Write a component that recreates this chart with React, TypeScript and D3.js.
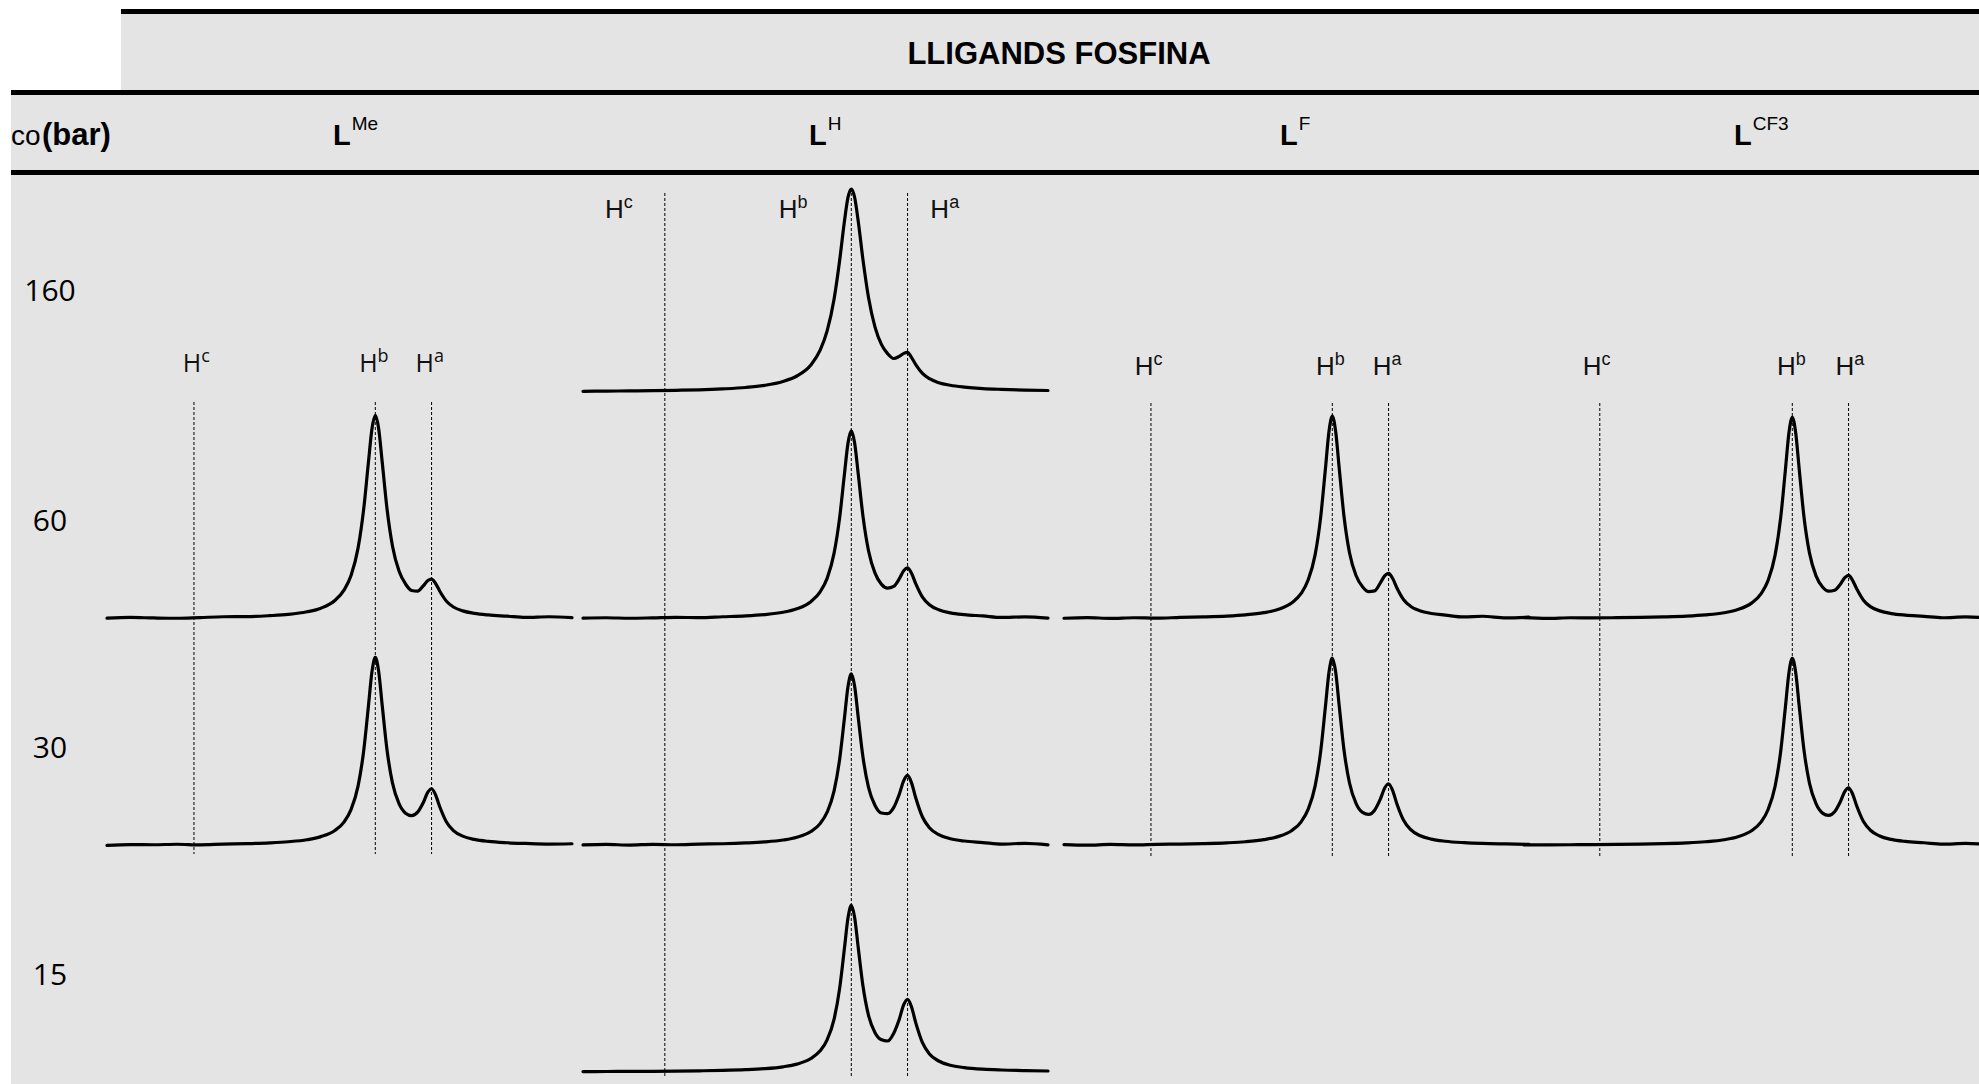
import React from "react";
import * as d3 from "d3";

// ---------- data ----------
const TITLE = "LLIGANDS FOSFINA";
const ROW_HEADER_SUB = "co";
const ROW_HEADER_MAIN = "(bar)";
const PRESSURES = ["160", "60", "30", "15"];
const LIGANDS = ["Me", "H", "F", "CF3"];
const PEAK_NAMES = ["c", "b", "a"];

// chemical-shift axis (relative units across each panel, 0..100)
const SHIFT = [0, 5, 10, 15, 20, 25, 30, 35, 39, 43, 46, 49, 51, 52.5, 54, 55.2, 56.2, 57, 57.7, 58.4, 59.2, 60.2, 61.4, 62.8, 64.2, 65.5, 66.8, 68, 69, 69.8, 70.6, 71.6, 73, 74.5, 76.5, 79, 82, 86, 90, 95, 100];

// marker (dashed line) positions per ligand, for Hc, Hb, Ha
const MARKERS_ME = [18.7, 57.7, 69.8];
const MARKERS_H = [17.6, 57.7, 69.8];
const MARKERS_F = [18.7, 57.7, 69.8];
const MARKERS_CF3 = [16.3, 57.7, 69.8];

// intensities
const LME_60 = [0.5, 1.2, 0.7, 0.4, 1.1, 1.9, 2.0, 3.0, 4.3, 6.9, 10.5, 18.2, 28.8, 43.4, 70.8, 109.5, 155.3, 190.4, 203.2, 190.7, 155.9, 110.6, 72.5, 47.6, 34.7, 28.2, 27.6, 32.8, 38.1, 39.6, 35.7, 27.2, 17.5, 11.7, 7.8, 5.3, 3.7, 2.5, 1.3, 1.9, 1.0];
const LME_30 = [0.0, 0.8, 0.6, 1.1, 0.5, 1.2, 1.7, 2.5, 3.6, 5.6, 8.7, 14.9, 23.5, 36.0, 59.4, 94.4, 138.3, 174.2, 188.0, 174.7, 139.3, 96.1, 62.2, 41.6, 32.1, 29.7, 33.2, 42.6, 53.1, 56.6, 51.1, 38.1, 23.4, 14.8, 9.2, 5.9, 3.9, 2.6, 1.9, 1.3, 1.6];
const LH_160 = [0.7, 0.9, 1.1, 1.3, 1.7, 2.2, 3.1, 4.5, 6.6, 10.5, 16.0, 27.0, 41.8, 61.1, 93.1, 131.8, 169.9, 194.8, 203.0, 195.0, 170.4, 132.6, 94.5, 64.9, 47.4, 38.4, 33.5, 35.6, 38.6, 39.6, 34.9, 27.2, 18.6, 13.3, 9.3, 6.7, 4.9, 3.4, 2.6, 1.9, 1.5];
const LH_60 = [0.5, 0.9, 0.4, 0.8, 1.3, 1.0, 1.9, 2.8, 4.1, 6.4, 9.9, 17.0, 26.8, 40.3, 65.5, 101.3, 143.5, 175.8, 187.7, 176.2, 144.3, 102.8, 67.9, 45.5, 34.3, 30.5, 32.2, 39.7, 48.1, 50.8, 45.9, 34.5, 21.5, 14.0, 8.9, 5.8, 4.0, 2.7, 1.2, 1.8, 0.6];
const LH_30 = [0.4, 0.9, 0.3, 1.0, 0.6, 1.2, 1.6, 2.4, 3.4, 5.3, 8.1, 13.8, 21.7, 33.1, 54.4, 86.3, 126.3, 159.0, 171.6, 159.6, 127.5, 88.5, 58.0, 39.9, 32.3, 31.7, 37.7, 50.9, 65.0, 69.9, 63.2, 46.8, 28.3, 17.6, 10.6, 6.6, 4.3, 2.8, 1.2, 2.0, 0.5];
const LH_15 = [0.4, 0.5, 0.6, 0.7, 0.9, 1.2, 1.6, 2.3, 3.3, 5.2, 7.9, 13.5, 21.2, 32.2, 52.9, 83.9, 122.7, 154.4, 166.7, 155.0, 124.0, 86.2, 56.7, 39.3, 32.2, 31.0, 38.6, 52.6, 67.6, 72.7, 65.8, 48.6, 29.3, 18.1, 11.0, 6.7, 4.4, 2.8, 2.0, 1.4, 1.0];
const LF_60 = [0.4, 1.0, 0.3, 0.9, 0.5, 1.3, 1.8, 2.6, 3.8, 6.0, 9.2, 15.9, 25.2, 38.6, 63.8, 101.6, 148.9, 187.7, 202.5, 188.0, 149.7, 102.9, 65.9, 43.2, 32.0, 27.1, 27.8, 35.6, 43.0, 45.2, 40.9, 30.7, 19.2, 12.5, 8.0, 5.2, 3.6, 1.7, 2.4, 0.8, 1.5];
const LF_30 = [0.8, 0.2, 0.9, 0.4, 1.0, 1.2, 1.7, 2.5, 3.6, 5.7, 8.7, 14.9, 23.5, 35.9, 59.2, 94.0, 137.8, 173.5, 187.2, 174.0, 138.8, 95.9, 62.3, 42.0, 32.9, 30.9, 35.1, 45.9, 57.6, 61.6, 55.7, 41.4, 25.3, 15.9, 9.8, 6.2, 4.1, 2.7, 1.9, 1.4, 1.0];
const LCF3_60 = [1.0, 0.2, 0.9, 0.8, 1.0, 1.3, 1.8, 2.6, 3.8, 5.9, 9.1, 15.8, 25.0, 38.3, 63.5, 101.0, 148.1, 186.7, 201.4, 187.0, 148.8, 102.2, 65.5, 42.8, 31.6, 27.5, 28.4, 34.2, 41.0, 43.2, 38.9, 29.4, 18.5, 12.0, 7.8, 5.1, 3.5, 2.3, 0.9, 1.8, 0.6];
const LCF3_30 = [0.4, 0.5, 0.6, 0.7, 0.9, 1.2, 1.7, 2.5, 3.6, 5.6, 8.6, 14.8, 23.4, 35.8, 59.1, 93.9, 137.6, 173.3, 187.1, 173.8, 138.6, 95.7, 62.0, 41.6, 32.2, 29.9, 33.5, 43.3, 54.0, 57.6, 52.1, 38.8, 23.8, 15.1, 9.3, 5.9, 3.9, 2.6, 1.2, 1.9, 0.6];

// ---------- layout / style ----------
const W = 1979;
const H = 1084;
const GREY = "#e4e4e4";
const PANEL_X = [107, 583, 1064, 1524];
const PANEL_W = 465;
const HEADER_X = [333, 809, 1280, 1734];
const ROW_LABEL_Y = [301, 531, 758, 985];
const MARKER_TOP = [402, 193, 403, 403];
const MARKER_BOTTOM = [854, 1078, 857, 857];
const LABEL_Y = [372, 218, 375, 375];
const LABEL_POS = [
  [19.2, 57.4, 69.4],
  [7.7, 45.2, 77.8],
  [18.2, 57.3, 69.5],
  [15.6, 57.5, 70.1],
];
const LABEL_FONT = ["'Open Sans', sans-serif", "'Liberation Sans', Arial, sans-serif", "'Liberation Sans', Arial, sans-serif", "'Liberation Sans', Arial, sans-serif"];

const MARKERS = [MARKERS_ME, MARKERS_H, MARKERS_F, MARKERS_CF3];
const SPECTRA = [
  { lig: 0, p: "60", v: LME_60 },
  { lig: 0, p: "30", v: LME_30 },
  { lig: 1, p: "160", v: LH_160 },
  { lig: 1, p: "60", v: LH_60 },
  { lig: 1, p: "30", v: LH_30 },
  { lig: 1, p: "15", v: LH_15 },
  { lig: 2, p: "60", v: LF_60 },
  { lig: 2, p: "30", v: LF_30 },
  { lig: 3, p: "60", v: LCF3_60 },
  { lig: 3, p: "30", v: LCF3_30 },
];

const SANS = "'Liberation Sans', Arial, sans-serif";

export default function App() {
  const row = d3.scalePoint<string>().domain(PRESSURES).range([392, 1072]);
  const xScales = PANEL_X.map((x0) => d3.scaleLinear().domain([0, 100]).range([x0, x0 + PANEL_W]));

  return (
    <svg
      width={W}
      height={H}
      style={{ position: "absolute", left: 0, top: 0, display: "block" }}
    >
      {/* backgrounds */}
      <rect x={121} y={11.5} width={W - 121} height={81} fill={GREY} />
      <rect x={11} y={92.5} width={W - 11} height={H - 92.5} fill={GREY} />
      {/* rule lines */}
      <line x1={121} x2={W} y1={11.5} y2={11.5} stroke="#000" strokeWidth={5} />
      <line x1={11} x2={W} y1={92.5} y2={92.5} stroke="#000" strokeWidth={5} />
      <line x1={11} x2={W} y1={172.5} y2={172.5} stroke="#000" strokeWidth={5} />

      {/* title */}
      <text x={1059} y={64} textAnchor="middle" fontFamily={SANS} fontWeight="bold" fontSize={31} fill="#000">
        {TITLE}
      </text>

      {/* row header */}
      <text x={11} y={145} fontFamily={SANS} fontSize={28} fill="#000">{ROW_HEADER_SUB}</text>
      <text x={42} y={145} fontFamily={SANS} fontWeight="bold" fontSize={31} fill="#000">{ROW_HEADER_MAIN}</text>

      {/* ligand headers */}
      {LIGANDS.map((lg, i) => (
        <text key={lg} x={HEADER_X[i]} y={145} fontFamily={SANS} fill="#000">
          <tspan fontSize={29} fontWeight="bold">L</tspan>
          <tspan fontSize={19} dy={-15} dx={1}>{lg}</tspan>
        </text>
      ))}

      {/* pressure labels */}
      {PRESSURES.map((p, i) => (
        <text key={p} x={50} y={ROW_LABEL_Y[i]} textAnchor="middle" fontFamily="'Open Sans', sans-serif" fontSize={30} fill="#000">
          {p}
        </text>
      ))}

      {/* dashed markers + labels */}
      {MARKERS.map((ms, i) =>
        ms.map((m, k) => (
          <g key={`m${i}-${k}`}>
            <line
              x1={xScales[i](m)}
              x2={xScales[i](m)}
              y1={MARKER_TOP[i]}
              y2={MARKER_BOTTOM[i]}
              stroke="#000"
              strokeWidth={1}
              strokeDasharray="3 2"
            />
            <text
              x={xScales[i](LABEL_POS[i][k])}
              y={LABEL_Y[i]}
              textAnchor="middle"
              fontFamily={LABEL_FONT[i]}
              fill="#111"
            >
              <tspan fontSize={i === 0 ? 25 : 26}>H</tspan>
              <tspan fontSize={18} dy={-10}>{PEAK_NAMES[k]}</tspan>
            </text>
          </g>
        ))
      )}

      {/* spectra */}
      {SPECTRA.map((s, idx) => {
        const base = row(s.p) as number;
        const y = d3.scaleLinear().domain([0, 200]).range([base, base - 200]);
        const xs = xScales[s.lig];
        const line = d3
          .line<number>()
          .x((_, j) => xs(SHIFT[j]))
          .y((d) => y(d))
          .curve(d3.curveMonotoneX);
        return (
          <path
            key={idx}
            d={line(s.v) || ""}
            fill="none"
            stroke="#000"
            strokeWidth={3.2}
            strokeLinejoin="round"
            strokeLinecap="round"
          />
        );
      })}
    </svg>
  );
}
